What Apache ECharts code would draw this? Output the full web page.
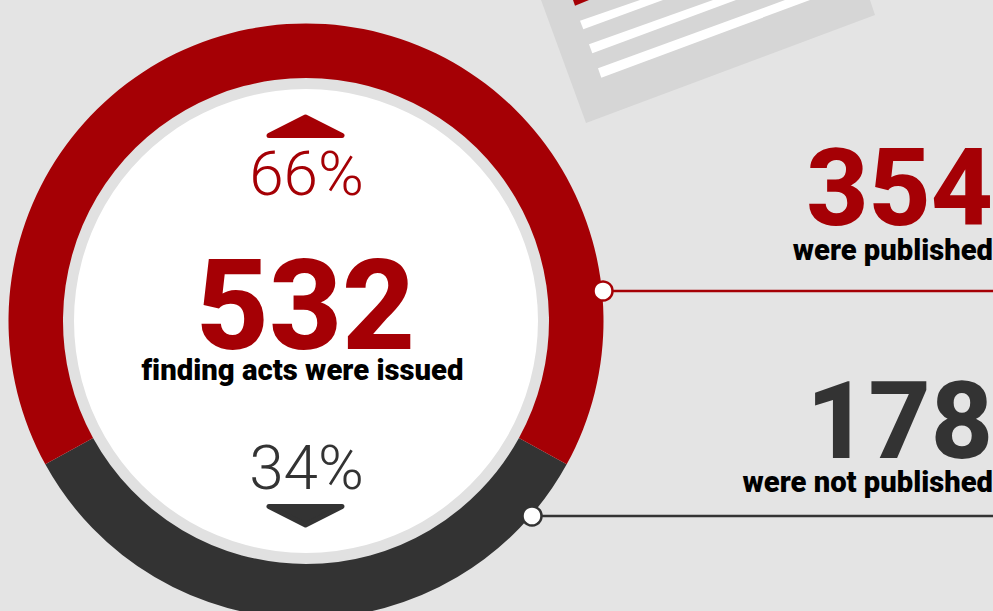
<!DOCTYPE html>
<html><head><meta charset="utf-8">
<style>html,body{margin:0;padding:0;background:#e4e4e4}#c{width:993px;height:611px}#c text{font-variant-ligatures:none !important}</style>
<script src="https://cdn.jsdelivr.net/npm/echarts@6/dist/echarts.min.js"></script>
</head><body><div id="c"></div>
<script>
const categories = ['were not published', 'were published'];
const counts = [178, 354];
const percents = [34, 66];
const totalLabel = '532';
const totalCaption = 'finding acts were issued';
const RED = '#a50005', DARK = '#333333';
const cx = 306, cy = 321;
const font = 'Roboto';
const txt = (x, y, text, size, weight, fill, align) => ({
  type: 'text', x, y, silent: true, z: 20,
  style: { text, fontFamily: font, fontSize: size, fontWeight: weight, fill, align: align || 'center', verticalAlign: 'middle' }
});
const poly = (points, fill, z) => ({ type: 'polygon', shape: { points }, style: { fill }, silent: true, z: z || 1 });
const arrow = (points, fill) => ({ type: 'polygon', shape: { points }, style: { fill, stroke: fill, lineWidth: 5, lineJoin: 'round' }, silent: true, z: 12 });
const chart = echarts.init(document.getElementById('c'), null, { renderer: 'svg' });
const sweep = percents[0] / (percents[0] + percents[1]) * 360;
chart.setOption({
  animation: false,
  backgroundColor: '#e4e4e4',
  series: [
    { type: 'pie', silent: true, center: [cx, cy], radius: [243, 297.5], startAngle: -90 + sweep / 2, clockwise: true,
      label: { show: false }, labelLine: { show: false }, z: 3,
      data: [
        { name: categories[0], value: percents[0], itemStyle: { color: DARK } },
        { name: categories[1], value: percents[1], itemStyle: { color: RED } }
      ] },
    { type: 'pie', silent: true, center: [cx, cy], radius: [0, 243],
      label: { show: false }, labelLine: { show: false }, z: 2,
      data: [{ value: 1, itemStyle: { color: '#e1e1e1' } }] },
    { type: 'pie', silent: true, center: [cx, cy], radius: [0, 232],
      label: { show: false }, labelLine: { show: false }, z: 4,
      data: [{ value: 1, itemStyle: { color: '#ffffff' } }] }
  ],
  graphic: [
    poly([[541, 0], [870, 0], [875, 15], [586, 123]], '#d6d6d6'),
    poly([[573, 0], [575, 5.7], [589, 0]], RED, 2),
    poly([[580, 20.7], [583.3, 29.3], [663, 0], [640, 0]], '#ffffff', 2),
    poly([[589, 44.3], [592.3, 53.3], [736, 0], [713, 0]], '#ffffff', 2),
    poly([[598, 68.3], [601.3, 77.7], [810, 0], [785, 0]], '#ffffff', 2),
    { type: 'line', shape: { x1: 603, y1: 291, x2: 993, y2: 291 }, style: { stroke: RED, lineWidth: 2.5 }, silent: true, z: 10 },
    { type: 'line', shape: { x1: 532, y1: 516, x2: 993, y2: 516 }, style: { stroke: DARK, lineWidth: 2.5 }, silent: true, z: 10 },
    { type: 'circle', shape: { cx: 603, cy: 291, r: 9.5 }, style: { fill: '#fff', stroke: RED, lineWidth: 2.5 }, silent: true, z: 11 },
    { type: 'circle', shape: { cx: 532, cy: 516, r: 9.5 }, style: { fill: '#fff', stroke: DARK, lineWidth: 2.5 }, silent: true, z: 11 },
    arrow([[269, 135.5], [305.5, 117], [342, 135.5]], RED),
    arrow([[269, 506.5], [342, 506.5], [305.5, 525]], DARK),
    txt(306.5, 173, percents[1] + '%', 62, 300, RED),
    txt(306.5, 467, percents[0] + '%', 62, 300, DARK),
    txt(305.5, 305, totalLabel, 127, 800, RED),
    txt(302.5, 370, totalCaption, 29.3, 900, '#000'),
    txt(993, 188, String(counts[1]), 108, 800, RED, 'right'),
    txt(993, 250, categories[1], 29.2, 900, '#000', 'right'),
    txt(993, 421, String(counts[0]), 108, 800, DARK, 'right'),
    txt(993, 482, categories[0], 29.2, 900, '#000', 'right')
  ]
});
</script></body></html>
